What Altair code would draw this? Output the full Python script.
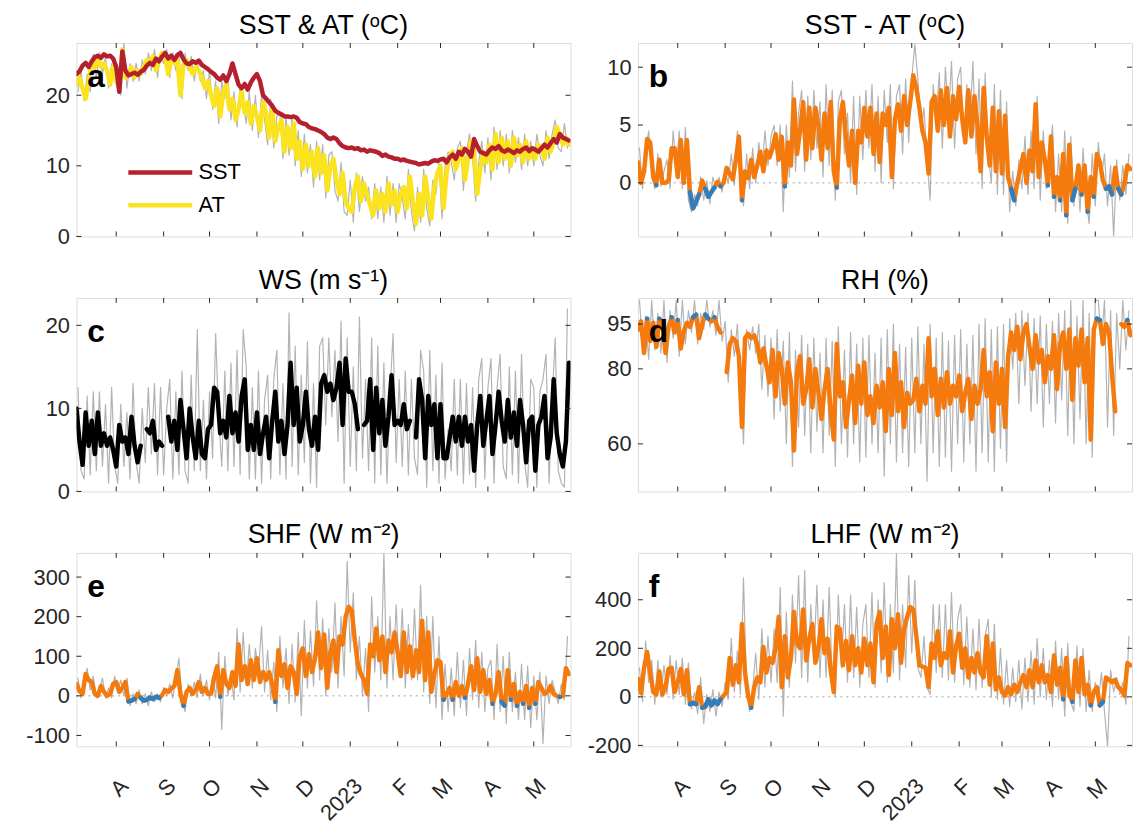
import altair as alt
import pandas as pd

FONT = "Liberation Sans"
AXC = "#262626"
GREY = "#b3b3b3"
ORANGE = "#f57a0d"
BLUE = "#2f7ebf"
RED = "#b5202e"
YELLOW = "#fbe31d"
W, H = 498, 195

START = pd.Timestamp("2022-07-06")
XDOM = [alt.DateTime(year=2022, month=7, date=6), alt.DateTime(year=2023, month=5, date=25)]
MONTH_STR = ["2022-08-01", "2022-09-01", "2022-10-01", "2022-11-01", "2022-12-01",
             "2023-01-01", "2023-02-01", "2023-03-01", "2023-04-01", "2023-05-01"]
MONTH_DT = [alt.DateTime(year=int(s[:4]), month=int(s[5:7]), date=1) for s in MONTH_STR]
LABEL_EXPR = ("month(datum.value) == 0 ? timeFormat(datum.value, '%Y') : "
              "slice(timeFormat(datum.value, '%b'), 0, 1)")
YLABEL_EXPR = "datum.value < 0 ? '-' + format(-datum.value, 'd') : format(datum.value, 'd')"

# ---------------- data (smoothed: every 2 days from 6 Jul 2022; raw: odd days) -------------
sst = [23.0, 23.4, 24.2, 24.6, 24.0, 24.8, 25.4, 25.6, 25.3, 25.8, 25.5, 25.6, 25.2,
       24.0, 20.5, 26.2, 23.5, 22.8, 23.0, 23.2, 22.9, 23.3, 23.6, 24.2, 24.6, 24.3, 25.2, 24.8, 25.5,
       26.0, 25.2, 25.6, 25.0, 25.7, 26.0, 25.1, 24.5, 24.4, 24.8, 24.6, 24.9, 24.3, 24.0, 23.7,
       23.3, 23.0, 22.5, 22.2, 22.8, 22.0, 23.0, 24.5, 23.0, 21.5, 21.0, 21.6, 20.8, 21.8, 22.5,
       23.0, 22.0, 20.0, 19.5, 19.0, 18.5, 17.8, 17.5, 17.3, 17.0, 17.0, 16.9, 17.0, 16.8, 16.2,
       16.0, 15.9, 15.5, 15.3, 15.2, 15.0, 14.8, 14.5, 14.0, 13.8, 14.0, 13.8, 13.2, 12.8, 12.6, 12.5,
       12.6, 12.4, 12.5, 12.2, 12.3, 12.0, 12.2, 12.1, 12.0, 11.8, 11.4, 11.6, 11.3, 11.2, 11.0,
       11.0, 10.8, 10.9, 10.7, 10.6, 10.5, 10.4, 10.2, 10.3, 10.4, 10.3, 10.6, 10.8, 10.7,
       10.9, 11.0, 10.5, 11.2, 11.6, 11.0, 12.0, 11.6, 12.4, 12.0, 11.3, 13.8, 12.8, 12.0, 11.8, 11.6,
       12.2, 12.6, 12.4, 12.8, 12.2, 12.0, 12.3, 12.1, 11.8, 12.2, 12.0, 12.4, 12.6, 12.1, 12.5,
       12.3, 12.0, 12.5, 13.0, 12.6, 13.2, 13.8, 13.3, 14.5, 14.0, 13.8, 13.6]
at = [21.5, 22.5, 21.0, 19.5, 22.0, 24.5, 24.0, 25.2, 24.0, 24.5, 23.5, 21.5, 24.0,
      22.0, 21.0, 26.5, 22.5, 23.0, 24.0, 22.5, 23.5, 23.0, 24.0, 25.0, 24.5, 25.5, 23.5, 25.0, 26.0,
      25.5, 23.0, 25.5, 24.5, 25.0, 20.0, 24.5, 25.0, 24.0, 23.0, 24.0, 23.5, 22.5, 21.0, 22.0,
      20.0, 18.5, 21.0, 17.0, 20.5, 21.5, 18.0, 19.5, 16.5, 18.0, 20.5, 17.5, 19.0, 16.0, 18.5,
      17.0, 15.0, 19.0, 17.5, 14.0, 18.0, 13.5, 15.5, 16.5, 12.0, 15.5, 12.5, 16.0, 11.0, 13.5,
      9.5, 13.0, 10.0, 12.0, 8.5, 12.5, 9.0, 11.5, 6.5, 10.0, 11.0, 8.0, 6.0, 9.0, 5.0, 4.0,
      3.5, 7.0, 8.5, 5.0, 7.5, 6.0, 4.5, 3.0, 6.5, 4.0, 6.0, 3.5, 7.5, 4.5, 6.5,
      3.5, 6.0, 7.0, 4.0, 8.5, 5.0, 1.8, 6.0, 3.0, 8.5, 5.5, 2.5, 7.0, 9.0,
      10.0, 4.0, 9.0, 11.5, 12.0, 9.5, 11.0, 12.5, 8.0, 11.0, 13.5, 12.0, 6.0, 9.5, 12.0, 10.5,
      13.0, 9.5, 14.5, 10.5, 14.0, 11.0, 13.5, 10.0, 14.0, 11.5, 13.0, 10.5, 13.5, 11.0, 12.5,
      11.0, 13.0, 12.5, 11.0, 14.0, 12.0, 13.5, 15.5, 14.5, 13.0, 14.0, 13.0]
at_raw = [20.5, 23.5, 19.2, 23.0, 20.5, 25.8, 22.5, 26.0, 23.0, 25.5, 21.0, 24.5, 22.5,
          24.0, 20.0, 27.5, 21.0, 24.5, 22.0, 24.5, 22.0, 25.0, 23.0, 26.0, 23.5, 26.5, 22.5, 26.0, 24.5,
          26.5, 22.5, 26.0, 23.5, 26.0, 19.5, 26.0, 23.5, 25.5, 22.0, 25.0, 22.0, 23.5, 19.5, 23.5,
          18.0, 22.0, 16.0, 22.0, 19.5, 22.5, 16.5, 20.5, 15.5, 21.5, 19.0, 16.0, 20.5, 15.0, 20.0,
          14.0, 20.0, 16.5, 13.0, 19.5, 12.5, 17.0, 17.5, 11.0, 17.0, 11.5, 17.0, 10.0, 15.0, 8.5,
          14.5, 9.0, 13.0, 7.0, 13.5, 8.0, 13.0, 5.5, 11.5, 12.0, 6.5, 5.0, 10.5, 3.5, 3.0, 8.0,
          2.0, 9.0, 3.5, 8.5, 5.0, 7.0, 2.5, 7.5, 2.5, 7.0, 2.0, 8.5, 3.0, 7.5, 2.0,
          7.5, 5.5, 2.5, 9.5, 3.5, 0.8, 7.0, 2.0, 9.5, 4.0, 1.5, 8.0, 6.0, 10.5,
          2.5, 10.0, 12.0, 10.5, 8.0, 12.5, 13.5, 6.5, 12.0, 14.5, 11.0, 5.0, 10.5, 13.5, 9.0, 14.0,
          8.0, 15.5, 9.5, 15.0, 10.0, 14.5, 9.0, 15.0, 10.5, 14.0, 9.5, 14.5, 10.0, 13.5, 10.0,
          14.5, 11.5, 10.0, 15.0, 11.0, 14.5, 16.5, 12.5, 12.0, 16.0, 12.5]

dt = [1.8, 0.0, 1.0, 3.8, 3.5, 0.5, -0.2, 2.0, 0.0, 0.0, 0.2, 3.0, 3.0,
      0.5, 3.7, 0.0, 3.7, -0.8, -2.2, -1.6, -1.0, 0.2, -0.5, -1.2, -0.8, -0.4, 0.1, -0.3, 0.0,
      1.3, 0.8, 0.3, 2.0, 4.0, -1.5, 1.0, 0.4, 2.0, 0.5, 1.5, 2.7, 1.0, 2.8, 2.2,
      3.0, 4.2, 2.0, 4.0, -0.3, 3.5, 1.5, 7.2, 2.5, 4.5, 7.0, 2.0, 6.5, 3.0, 6.5,
      5.0, 2.0, 6.0, 3.0, 7.0, 1.0, -0.4, 5.5, 7.0, 4.0, 1.5, 4.5, 0.0, 4.5, 3.5,
      6.5, 4.0, 6.5, 2.5, 6.0, 1.8, 6.0, 5.0, 6.5, 0.5, 5.5, 6.8, 4.5, 7.5, 5.0, 7.0,
      9.3, 8.2, 6.5, 4.5, 3.5, 0.8, 7.0, 7.5, 4.5, 8.0, 5.0, 8.2, 4.0, 7.5, 5.5,
      8.3, 5.5, 3.5, 8.0, 4.0, 7.5, 5.0, 1.0, 8.2, 4.0, 1.5, 6.5, 1.0, 6.2,
      0.8, 5.8, 0.5, -0.5, -1.5, 0.0, 1.2, 2.5, 0.0, 2.8, 1.0, 6.8, 0.5, 3.5, 2.0, -0.2,
      4.0, -1.2, 0.5, -1.5, 2.5, -2.8, 3.3, -1.5, -0.5, 1.5, -1.0, 1.5, -2.5, 0.5, -1.2,
      2.5, 1.8, 0.2, -0.5, -0.3, -1.0, 1.3, -0.5, -1.0, 0.0, 1.5, 1.2]
dt_raw = [3.0, -0.5, 2.5, 4.5, 1.0, -0.5, 2.5, -0.3, 1.0, 2.0, -0.5, 4.5, 1.0,
          4.5, -0.5, 4.8, -1.5, -2.5, -1.0, -2.0, 0.5, -1.5, 0.2, -1.8, 0.5, -0.5, 0.5, -0.8, 1.0,
          0.0, 2.5, -0.2, 4.5, 1.0, -2.0, 2.5, -0.5, 3.0, 0.0, 3.5, 1.0, 4.5, 1.5, 4.0,
          5.0, 1.5, 5.0, -2.5, 5.0, 0.5, 8.8, 1.0, 6.0, 8.0, 1.0, 7.5, 2.0, 8.0, 3.0,
          7.0, 0.5, 8.5, 1.5, 8.0, -1.5, 7.0, 8.0, 2.5, 6.0, 0.0, 7.5, -1.0, 7.5, 2.0,
          8.0, 3.0, 8.5, 1.0, 7.5, 0.0, 8.0, 3.5, 8.5, -0.5, 7.5, 8.5, 2.5, 9.0, 3.5, 9.0,
          12.0, 9.0, 4.5, 6.5, 2.0, -1.5, 8.5, 5.5, 9.5, 3.0, 10.0, 5.5, 10.5, 3.0, 9.0,
          10.0, 3.5, 8.5, 5.0, 10.5, 2.5, 9.0, -0.5, 9.5, 2.5, 0.0, 8.5, -1.0, 8.0,
          -1.0, 7.0, -2.5, 1.0, -2.0, 2.0, -0.5, 4.0, -1.0, 4.5, -0.5, 7.5, -1.5, 4.5, -0.5, 1.5,
          5.0, -2.5, 2.5, -2.5, 4.5, -3.5, 4.0, -2.0, 1.5, -2.5, 3.0, -1.5, -3.5, 2.5, -2.0,
          3.5, 0.5, 2.5, -2.0, 1.5, -4.6, 2.0, -1.5, 1.5, -1.0, 2.5]

ws = [10.0, 6.0, 3.2, 9.5, 5.5, 8.5, 4.5, 9.5, 5.5, 7.0, 5.5, 6.5, 5.0,
      3.0, 8.0, 6.0, 6.5, 4.5, 9.0, 5.5, 3.5, 5.5, None, 7.5, 7.0, 8.5, 5.0, 6.0, 5.5,
      None, 9.0, 6.0, 8.5, 5.0, 11.0, 7.5, 4.0, 10.0, 6.5, 4.0, 8.5, 4.5, 4.0, 7.5,
      8.0, 12.5, 12.0, 7.0, 8.5, 6.5, 11.5, 7.0, 9.5, 6.0, 11.5, 13.5, 5.0, 8.0, 5.0,
      9.5, 4.5, 7.0, 9.0, 4.0, 8.5, 12.0, 6.0, 8.5, 4.5, 8.0, 15.5, 8.0, 12.5, 6.0,
      8.0, 12.0, 7.5, 5.5, 9.0, 5.0, 13.0, 14.0, 12.0, 13.0, 11.0, 12.5, 15.5, 8.0, 16.0, 12.0,
      12.0, 10.5, 7.5, None, 8.0, 8.5, 13.5, 5.0, 12.5, 7.0, 11.0, 5.5, 9.0, 14.0, 8.0,
      8.5, 8.0, 10.5, 7.5, 8.5, None, 6.5, 13.5, 11.0, 4.0, 11.5, 8.0, 10.5, 4.0,
      10.5, 4.0, 4.0, 6.5, 9.0, 6.0, 9.0, 5.5, 9.0, 6.0, 8.0, 2.5, 8.0, 11.5, 5.5, 8.5,
      11.5, 4.5, 8.0, 12.0, 8.5, 6.0, 11.0, 6.5, 9.5, 5.5, 11.0, 8.0, 3.5, 8.5, 9.0,
      2.5, 8.0, 9.0, 11.5, 4.0, 6.5, 13.5, 7.0, 4.5, 3.0, 6.0, 15.5]
ws_raw = [12.5, 2.5, 1.5, 11.5, 2.0, 12.0, 2.5, 12.0, 3.0, 10.5, 1.0, 12.5, 3.0,
          1.0, 10.5, 3.0, 9.5, 1.5, 13.0, 3.5, 1.0, 10.0, 3.5, 12.5, 4.5, 13.0, 2.0, 12.5, 2.0,
          10.0, 13.5, 1.5, 12.0, 2.0, 14.5, 2.5, 1.0, 14.0, 2.5, 19.5, 2.5, 11.0, 1.5, 12.0,
          4.0, 19.0, 9.0, 3.0, 14.5, 2.5, 15.5, 3.0, 17.0, 2.0, 19.5, 15.0, 1.5, 12.5, 1.5,
          14.5, 1.0, 11.0, 14.0, 1.5, 13.5, 17.0, 2.0, 13.0, 1.5, 21.5, 3.0, 17.5, 2.0, 14.0,
          3.5, 18.0, 1.0, 13.0, 0.5, 17.5, 18.5, 8.0, 18.5, 9.0, 17.0, 6.0, 20.5, 1.0, 18.5, 3.0,
          15.0, 2.5, 21.0, 4.0, 13.5, 2.5, 18.5, 1.0, 17.5, 2.0, 15.5, 1.0, 12.0, 19.0, 3.5,
          13.5, 3.0, 14.5, 2.0, 13.5, 4.0, 2.0, 17.0, 14.5, 0.5, 17.0, 2.5, 14.0, 1.0,
          15.5, 1.5, 7.5, 2.5, 13.5, 2.0, 13.5, 1.0, 13.0, 2.0, 12.5, 0.5, 13.5, 16.0, 1.5, 12.5,
          16.0, 1.0, 12.5, 16.5, 3.0, 1.5, 15.0, 2.0, 14.5, 1.0, 16.5, 3.5, 0.5, 13.5, 12.5,
          0.5, 12.0, 13.5, 16.5, 1.0, 11.0, 18.5, 2.5, 1.0, 0.5, 22.0]

rh = [93.0, 96.0, 85.0, 97.0, 89.0, 95.5, 87.0, 97.0, 95.0, 85.0, 94.0, 97.5, 92.0,
      96.5, 86.5, 92.5, 95.5, 94.0, 97.5, 98.5, 90.0, 95.0, 98.5, 97.0, 96.0, 97.5, 94.0, 92.0, None,
      79.0, 88.0, 90.0, 89.0, 84.0, 64.0, 90.0, 91.5, 90.0, 91.0, 88.0, 82.0, 86.5, 81.0, 76.0,
      86.0, 72.0, 85.0, 80.0, 70.0, 82.0, 76.0, 58.5, 79.0, 84.0, 70.0, 74.0, 83.0, 69.0, 80.0,
      73.0, 66.0, 74.0, 80.0, 68.0, 61.0, 88.0, 72.0, 76.0, 64.0, 71.0, 78.0, 65.0, 81.0, 70.0,
      82.0, 67.0, 72.0, 65.0, 75.0, 69.0, 76.0, 63.0, 80.0, 67.0, 85.0, 68.0, 76.0, 64.0, 73.0, 70.0,
      71.0, 77.0, 68.0, 75.0, 70.0, 90.0, 72.0, 80.0, 67.0, 77.0, 69.0, 79.0, 70.0, 75.0, 72.0,
      78.0, 68.0, 73.0, 77.0, 66.0, 75.0, 70.0, 74.0, 86.0, 72.0, 79.0, 63.0, 82.0, 70.0,
      80.0, 64.0, 84.0, 92.0, 86.0, 94.0, 83.0, 92.0, 95.0, 87.0, 80.0, 91.0, 82.0, 86.0, 76.0, 84.0,
      80.0, 91.0, 74.0, 88.0, 92.0, 80.0, 93.0, 71.0, 90.0, 81.0, 93.0, 76.0, 90.0, 61.0, 93.0,
      97.0, 96.5, 88.0, 95.0, 92.0, 78.0, 68.0, None, 95.0, 94.0, 96.5, 91.0]
rh_raw = [104, 88, 98, 83, 104, 86, 99, 85, 104, 82, 100, 90, 104,
          84, 104, 88, 100, 92, 104, 88, 99, 93, 104, 94, 100, 91, 104, 89, 96,
          76, 93, 84, 95, 77, 60, 93, 86, 94, 85, 95, 74, 91, 72, 90,
          66, 93, 68, 89, 60, 92, 55, 86, 64, 91, 62, 88, 58, 90, 63,
          85, 58, 90, 62, 89, 55, 94, 60, 86, 57, 92, 60, 88, 56, 90,
          57, 91, 60, 85, 58, 90, 53, 93, 60, 95, 56, 88, 58, 87, 55, 90,
          58, 94, 60, 88, 52, 95, 58, 90, 55, 92, 57, 89, 54, 91, 60,
          93, 56, 88, 60, 91, 54, 95, 58, 97, 56, 93, 54, 94, 59,
          95, 56, 97, 80, 99, 70, 100, 75, 99, 68, 97, 70, 98, 64, 95, 70,
          96, 65, 99, 71, 100, 62, 104, 60, 98, 66, 104, 60, 99, 57, 104,
          104, 88, 104, 64, 100, 62, 99, 80, 104, 86, 100]

shf = [30, 12, 5, 55, 40, 35, 5, 0, 25, 10, 0, 5, 30,
       35, 10, 20, 35, -14, -12, -8, 5, -5, -12, -10, -4, -8, -2, -5, 2,
       15, 10, 18, 25, 65, 5, -25, 10, 20, 5, 15, 35, 10, 20, 5,
       5, 45, 75, -2, 65, 30, 20, 60, 25, 130, 40, 75, 30, 90, 40,
       95, 35, 60, 40, 60, 30, -15, 115, 50, 80, 20, 75, 60, 5, 100,
       120, 50, 105, 60, 95, 160, 70, 155, 20, 110, 140, 60, 150, 130, 200, 225,
       215, 140, 80, 55, 40, 5, 130, 100, 170, 90, 150, 60, 140, 110, 160,
       110, 50, 160, 60, 125, 50, 115, 60, 190, 40, 160, 10, 55, 90,
       85, -10, 5, 20, -10, 35, 0, 25, -5, 30, 75, 15, 95, 10, 65, 5,
       40, -20, 5, 60, -15, -25, 65, -10, 30, -25, 10, -20, 25, -30, 20,
       -20, 35, 20, 5, 10, 25, 5, 0, -3, 0, 70, 55]
shf_raw = [45, -5, 20, 70, 15, 50, -5, 15, 45, -5, 20, -5, 50,
           10, 40, 0, 45, -25, 5, -20, 15, -20, 5, -25, 10, -15, 5, -15, 20,
           0, 30, -5, 45, 95, -10, -40, 30, 0, 35, -5, 55, 0, 40, -10,
           50, -5, 110, -85, 100, 0, 55, -10, 170, 10, 160, 25, 130, 20, 120,
           60, 175, 10, 115, -10, 85, -40, 150, 20, 120, -20, 130, -15, 160, -50,
           190, 20, 165, 25, 240, 40, 195, 0, 170, 60, 235, 20, 200, 50, 340, 110,
           260, 40, 150, 0, 120, -40, 250, 60, 200, 40, 360, 20, 200, 40, 230,
           60, 220, 20, 180, 40, 220, 40, 280, 10, 200, -20, 200, -30, 150,
           -60, 80, -40, 70, -50, 110, -30, 90, -50, 120, -10, 140, -30, 110, -40, 70,
           90, -60, 130, -40, 100, -70, 110, -40, 60, -60, 80, -60, 75, -80, 50,
           -60, 60, -120, 50, -20, 40, 10, -20, 30, -10, 150]

lhf = [75, 15, 120, 185, 100, 20, 10, 105, 10, 40, 115, 120, 20,
       60, 115, 10, 110, -30, -25, -30, 40, -45, -40, -10, -35, -15, -30, -10, 5,
       20, 160, 50, 130, 60, 300, 100, 5, -45, 40, 80, 60, 205, 100, 160,
       140, 200, 330, 40, 250, 80, 160, 350, 220, 200, 360, 150, 240, 300, 140,
       200, 320, 180, 240, 110, 20, 290, 280, 130, 230, 110, 250, 130, 200, 100,
       240, 130, 220, 60, 300, 350, 160, 290, 90, 320, 200, 340, 140, 280, 330, 370,
       360, 250, 130, 125, 120, 40, 220, 160, 270, 130, 180, 160, 270, 100, 210,
       260, 120, 200, 80, 160, 100, 180, 100, 80, 250, 50, 220, 30, 80,
       20, 5, 40, 10, 50, 20, 60, 90, 40, 110, 40, 150, 60, 130, 60, 90,
       20, 170, 50, 120, -10, 160, 10, -20, 150, 20, 160, 10, 50, -35, 20,
       40, -35, -20, 80, 70, 60, 70, 40, 30, 5, 140, 130]
lhf_raw = [120, -20, 230, 60, 150, -30, 150, 0, 130, 10, 170, -10, 150,
           10, 160, -30, 140, -50, 20, -70, 80, -110, 10, -60, 30, -80, 20, -40, 60,
           -10, 240, 20, 190, 10, 490, 40, -60, 30, 180, -10, 280, 40, 250, 60,
           280, 60, 450, -80, 350, 40, 420, 140, 500, 80, 520, 60, 380, 160, 460,
           80, 400, 80, 450, 60, 0, 420, 120, 380, 60, 420, 80, 370, 40, 300,
           380, 80, 430, 40, 400, 100, 470, 60, 380, 100, 590, 70, 380, 120, 500, 180,
           480, 120, 80, 250, 40, 10, 380, 100, 380, 80, 380, 70, 430, 60, 320,
           380, 50, 330, 40, 280, 30, 320, 40, 250, 320, 0, 300, -10, 200,
           -30, 150, -40, 120, -20, 150, -50, 160, -20, 190, -30, 240, 0, 200, -10, 150,
           -40, 230, -10, 200, -80, 220, -20, -60, 210, -40, 200, -60, 110, -60, 60,
           -20, 100, -60, -205, 110, 20, 80, 10, 60, -30, 250]


def frame(vals, offset, label=None):
    dates = [(START + pd.Timedelta(days=offset + 2 * i)).strftime("%Y-%m-%dT%H:%M:%S")
             for i in range(len(vals))]
    df = pd.DataFrame({"date": dates, "v": pd.Series(vals, dtype="float")})
    if label is not None:
        df["s"] = label
    return df


def only(vals, cond):
    return [v if (v is not None and cond(v)) else None for v in vals]


def xenc(bottom):
    if bottom:
        ax = alt.Axis(values=MONTH_DT, labelExpr=LABEL_EXPR, labelAngle=315, labelAlign="right",
                      labelBaseline="middle", labelPadding=36, labelOffset=8, ticks=False,
                      domain=False, grid=False, labelFontSize=22, labelFont=FONT,
                      labelColor=AXC, labelOverlap=False, labelFlush=False, title=None)
    else:
        ax = None
    return alt.X("date:T", scale=alt.Scale(domain=XDOM), axis=ax, title=None)


def yenc(ydom, yticks, log=False):
    sc = alt.Scale(domain=ydom, nice=False, zero=False, type="log" if log else "linear")
    ax = alt.Axis(values=yticks, labelExpr=YLABEL_EXPR, ticks=False, domain=False, grid=False,
                  labelFontSize=22, labelFont=FONT, labelColor=AXC, labelPadding=7, title=None)
    return alt.Y("v:Q", scale=sc, axis=ax, title=None)


def line(df, color, width, bottom, ydom, yticks, log=False):
    return alt.Chart(df).mark_line(color=color, strokeWidth=width, clip=True,
                                   strokeJoin="round", strokeCap="round").encode(
        x=xenc(bottom), y=yenc(ydom, yticks, log))


def zero_line(bottom, ydom, yticks):
    return alt.Chart(pd.DataFrame({"v": [0.0]})).mark_rule(
        color="#a0a0a0", strokeDash=[2, 4], strokeWidth=1).encode(
        y=yenc(ydom, yticks), x=alt.value(0), x2=alt.value(W))


def frame_layers(bottom, ydom, yticks, letter, log=False):
    mdf = pd.DataFrame({"date": [s + "T00:00:00" for s in MONTH_STR]})
    ydf = pd.DataFrame({"v": yticks})
    return [
        alt.Chart(mdf).mark_rule(color=AXC, strokeWidth=1).encode(
            x=xenc(bottom), y=alt.value(H), y2=alt.value(H - 5)),
        alt.Chart(mdf).mark_rule(color=AXC, strokeWidth=1).encode(
            x=xenc(bottom), y=alt.value(0), y2=alt.value(5)),
        alt.Chart(ydf).mark_rule(color=AXC, strokeWidth=1).encode(
            y=yenc(ydom, yticks, log), x=alt.value(0), x2=alt.value(5)),
        alt.Chart(ydf).mark_rule(color=AXC, strokeWidth=1).encode(
            y=yenc(ydom, yticks, log), x=alt.value(W), x2=alt.value(W - 5)),
        alt.Chart(pd.DataFrame({"t": [letter]})).mark_text(
            align="left", baseline="alphabetic", fontSize=32, fontWeight="bold",
            font=FONT, color="black").encode(text="t:N", x=alt.value(11), y=alt.value(44)),
    ]


def titled(layers, title):
    return alt.layer(*layers).properties(
        width=W, height=H,
        title=alt.TitleParams(title, fontSize=27, font=FONT, fontWeight="normal",
                              color="black", offset=3))


def signed_panel(vals, raw, ydom, yticks, letter, title, bottom, log=False, blue_cond=None):
    layers = [line(frame(raw, 1), GREY, 1.2, bottom, ydom, yticks, log)]
    if not log:
        layers.append(zero_line(bottom, ydom, yticks))
    layers.append(line(frame(vals, 0), ORANGE, 4.5, bottom, ydom, yticks, log))
    layers.append(line(frame(only(vals, blue_cond), 0), BLUE, 4.5, bottom, ydom, yticks, log))
    return titled(layers + frame_layers(bottom, ydom, yticks, letter, log), title)


# ---- panel a ----
A_DOM, A_T = [0, 27.4], [0, 10, 20]
leg = alt.Legend(orient="none", legendX=68, legendY=114, symbolType="M-2.3,0H2.3",
                 symbolSize=784, symbolStrokeWidth=4.5, labelFontSize=22, labelFont=FONT,
                 labelColor="black", title=None, labelOffset=22, rowPadding=5, padding=0)
cscale = alt.Scale(domain=["SST", "AT"], range=[RED, YELLOW])
pa_layers = [line(frame(at_raw, 1), GREY, 1.2, False, A_DOM, A_T)]
for vals, lab in [(at, "AT"), (sst, "SST")]:
    pa_layers.append(alt.Chart(frame(vals, 0, lab)).mark_line(
        strokeWidth=4.5, clip=True, strokeJoin="round", strokeCap="round").encode(
        x=xenc(False), y=yenc(A_DOM, A_T),
        color=alt.Color("s:N", scale=cscale, legend=leg)))
pa = titled(pa_layers + frame_layers(False, A_DOM, A_T, "a"), "SST & AT (ᵒC)")

pb = signed_panel(dt, dt_raw, [-4.63, 12.09], [0, 5, 10], "b", "SST - AT (ᵒC)", False,
                  blue_cond=lambda v: v < 0)

C_DOM, C_T = [0, 23.3], [0, 10, 20]
pc = titled([line(frame(ws_raw, 1), GREY, 1.2, False, C_DOM, C_T),
             line(frame(ws, 0), "black", 4.5, False, C_DOM, C_T)]
            + frame_layers(False, C_DOM, C_T, "c"), "WS (m s⁻¹)")

pd_ = signed_panel(rh, rh_raw, [50, 105], [60, 80, 95], "d", "RH (%)", False, log=True,
                   blue_cond=lambda v: v >= 96.5)

pe = signed_panel(shf, shf_raw, [-127.6, 361], [-100, 0, 100, 200, 300], "e", "SHF (W m⁻²)",
                  True, blue_cond=lambda v: v < 0)
pf = signed_panel(lhf, lhf_raw, [-204, 593], [-200, 0, 200, 400], "f", "LHF (W m⁻²)",
                  True, blue_cond=lambda v: v < 0)

chart = alt.concat(pa, pb, pc, pd_, pe, pf, columns=2,
                   spacing={"row": 62, "column": 68}, bounds="flush").properties(
    padding={"left": 17, "top": 0, "right": 0, "bottom": 0}
).configure_view(stroke=AXC, strokeWidth=1).configure(background="white")

chart.save("out.html", embed_options={"renderer": "svg", "actions": False})
